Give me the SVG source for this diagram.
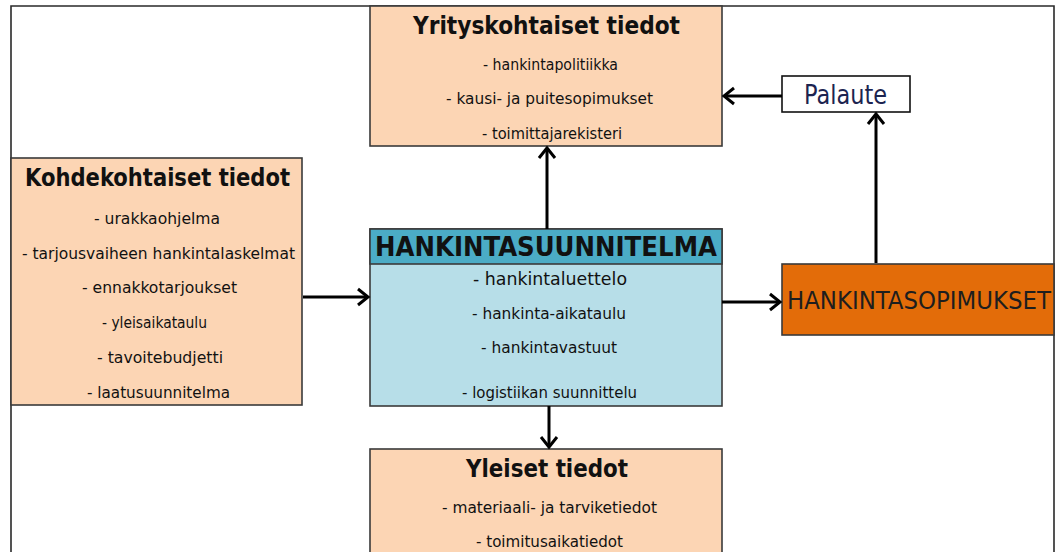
<svg xmlns="http://www.w3.org/2000/svg" width="1057" height="552" viewBox="0 0 1057 552">
<defs>
<style>
text{font-family:"DejaVu Sans Condensed","DejaVu Sans",sans-serif;font-stretch:condensed;text-anchor:middle;fill:#111;}
.t{font-weight:bold;font-size:24px;}
.i{font-size:16px;}
.ib{font-size:17px;}
.box{stroke:#3a3a3a;stroke-width:1.6;}
.peach{fill:#FCD5B4;}
.conn line{stroke:#000;stroke-width:3;}
.conn polyline{fill:none;stroke:#000;stroke-width:3;}
</style>
</defs>
<rect width="1057" height="552" fill="#fff"/>
<g id="frame" fill="none" stroke="#2a2a2a" stroke-width="1.6">
<polyline points="11,552 11,6 1054,6 1054,552"/>
</g>
<g id="yritys">
<rect class="box peach" x="370" y="6" width="352" height="140"/>
<text class="t" x="546.5" y="34" textLength="267" lengthAdjust="spacingAndGlyphs">Yrityskohtaiset tiedot</text>
<text class="i" x="550.5" y="70" textLength="135" lengthAdjust="spacingAndGlyphs">- hankintapolitiikka</text>
<text class="i" x="549.5" y="104" textLength="207" lengthAdjust="spacingAndGlyphs">- kausi- ja puitesopimukset</text>
<text class="i" x="552" y="139" textLength="140" lengthAdjust="spacingAndGlyphs">- toimittajarekisteri</text>
</g>
<g id="palaute">
<rect x="782" y="76" width="128" height="36" fill="#fff" stroke="#111" stroke-width="1.6"/>
<text x="845.5" y="104" style="font-size:26px;fill:#1c2450" textLength="83" lengthAdjust="spacingAndGlyphs">Palaute</text>
</g>
<g id="kohde">
<rect class="box peach" x="11" y="158" width="291" height="247"/>
<text class="t" x="157.5" y="186" textLength="265" lengthAdjust="spacingAndGlyphs">Kohdekohtaiset tiedot</text>
<text class="i" x="157" y="224" textLength="126" lengthAdjust="spacingAndGlyphs">- urakkaohjelma</text>
<text class="i" x="158.5" y="259" textLength="273" lengthAdjust="spacingAndGlyphs">- tarjousvaiheen hankintalaskelmat</text>
<text class="i" x="159.5" y="293" textLength="155" lengthAdjust="spacingAndGlyphs">- ennakkotarjoukset</text>
<text class="i" x="154.5" y="328" textLength="105" lengthAdjust="spacingAndGlyphs">- yleisaikataulu</text>
<text class="i" x="160" y="363" textLength="126" lengthAdjust="spacingAndGlyphs">- tavoitebudjetti</text>
<text class="i" x="158.5" y="398" textLength="143" lengthAdjust="spacingAndGlyphs">- laatusuunnitelma</text>
</g>
<g id="suunnitelma">
<rect class="box" x="370" y="229" width="352" height="177" fill="#B7DEE8"/>
<rect class="box" x="370" y="229" width="352" height="35" fill="#4BACC6"/>
<text x="546" y="256" style="font-weight:bold;font-size:27px" textLength="342" lengthAdjust="spacingAndGlyphs">HANKINTASUUNNITELMA</text>
<text class="ib" x="550" y="285" textLength="154" lengthAdjust="spacingAndGlyphs">- hankintaluettelo</text>
<text class="i" x="549" y="319" textLength="154" lengthAdjust="spacingAndGlyphs">- hankinta-aikataulu</text>
<text class="i" x="549" y="353" textLength="136" lengthAdjust="spacingAndGlyphs">- hankintavastuut</text>
<text class="i" x="549.5" y="398" textLength="175" lengthAdjust="spacingAndGlyphs">- logistiikan suunnittelu</text>
</g>
<g id="sopimukset">
<rect class="box" x="782" y="264" width="272" height="71" fill="#E36C09"/>
<text x="919" y="309" style="font-size:24px;fill:#1e1e1e" textLength="264" lengthAdjust="spacingAndGlyphs">HANKINTASOPIMUKSET</text>
</g>
<g id="yleiset">
<rect class="box peach" x="370" y="449" width="352" height="110"/>
<text class="t" x="547" y="477" textLength="162" lengthAdjust="spacingAndGlyphs">Yleiset tiedot</text>
<text class="i" x="549.5" y="513" textLength="215" lengthAdjust="spacingAndGlyphs">- materiaali- ja tarviketiedot</text>
<text class="i" x="549.5" y="547" textLength="147" lengthAdjust="spacingAndGlyphs">- toimitusaikatiedot</text>
</g>
<g id="connectors" class="conn">
<line x1="782" y1="96" x2="724" y2="96"/>
<polyline points="734,88 724,96 734,104"/>
<line x1="876" y1="263" x2="876" y2="114"/>
<polyline points="868,124 876,114 884,124"/>
<line x1="547" y1="229" x2="547" y2="148"/>
<polyline points="539,158 547,148 555,158"/>
<line x1="303" y1="297" x2="368" y2="297"/>
<polyline points="358,289 368,297 358,305"/>
<line x1="722" y1="302" x2="780" y2="302"/>
<polyline points="770,294 780,302 770,310"/>
<line x1="549" y1="406" x2="549" y2="447"/>
<polyline points="541,437 549,447 557,437"/>
</g>
</svg>
